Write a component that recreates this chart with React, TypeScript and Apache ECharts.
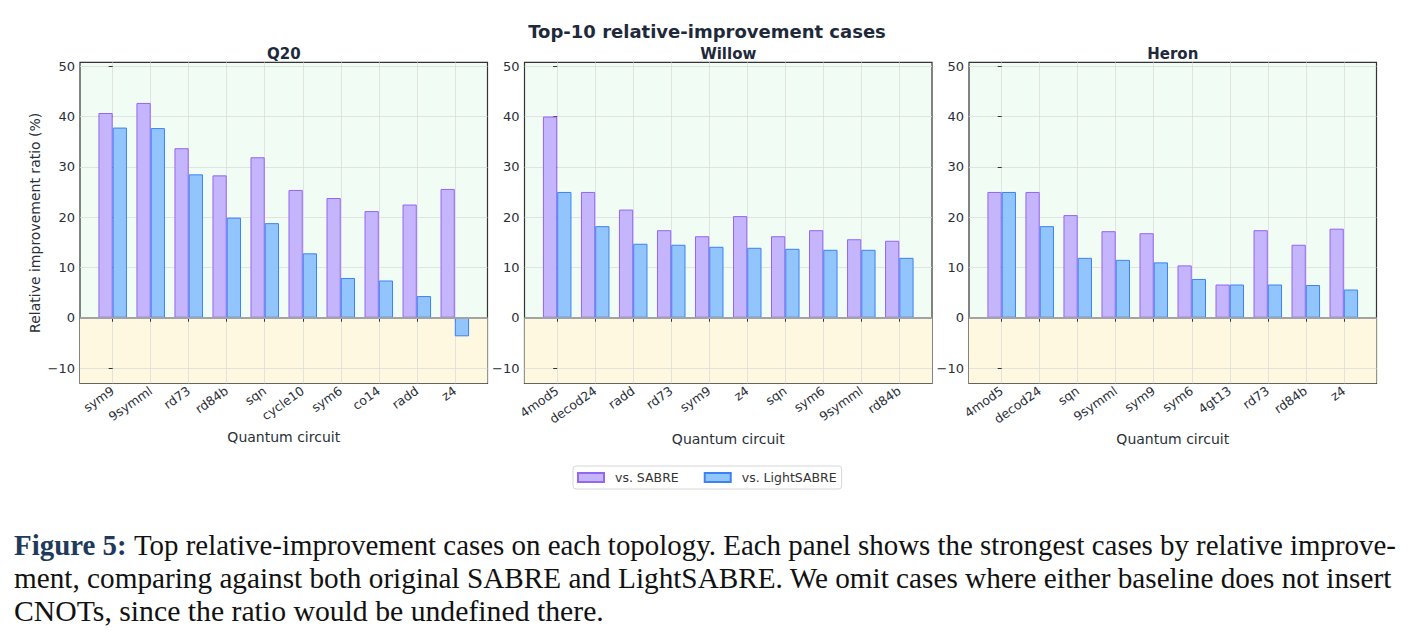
import React, { useEffect, useRef } from 'react';
import * as echarts from 'echarts';

const mainTitle = 'Top-10 relative-improvement cases';
const panelTitles = ['Q20', 'Willow', 'Heron'];
const seriesNames = ['vs. SABRE', 'vs. LightSABRE'];

const q20Circuits = ['sym9', '9symml', 'rd73', 'rd84b', 'sqn', 'cycle10', 'sym6', 'co14', 'radd', 'z4'];
const q20VsSabre = [40.7, 42.7, 33.7, 28.3, 31.9, 25.4, 23.8, 21.2, 22.5, 25.6];
const q20VsLight = [37.8, 37.7, 28.5, 19.9, 18.8, 12.8, 7.9, 7.4, 4.3, -3.7];

const willowCircuits = ['4mod5', 'decod24', 'radd', 'rd73', 'sym9', 'z4', 'sqn', 'sym6', '9symml', 'rd84b'];
const willowVsSabre = [40.0, 25.0, 21.5, 17.4, 16.2, 20.2, 16.2, 17.4, 15.6, 15.3];
const willowVsLight = [25.0, 18.2, 14.7, 14.5, 14.1, 13.9, 13.7, 13.5, 13.5, 11.9];

const heronCircuits = ['4mod5', 'decod24', 'sqn', '9symml', 'sym9', 'sym6', '4gt13', 'rd73', 'rd84b', 'z4'];
const heronVsSabre = [25.0, 25.0, 20.4, 17.2, 16.8, 10.4, 6.6, 17.4, 14.5, 17.7];
const heronVsLight = [25.0, 18.2, 11.9, 11.5, 11.0, 7.7, 6.6, 6.6, 6.5, 5.6];

const yTicks = [-10, 0, 10, 20, 30, 40, 50];
const yAxisName = 'Relative improvement ratio (%)';
const xAxisName = 'Quantum circuit';

const captionBold = 'Figure 5:';
const captionLines = [
  'Top relative-improvement cases on each topology. Each panel shows the strongest cases by relative improve-',
  'ment, comparing against both original SABRE and LightSABRE. We omit cases where either baseline does not insert',
  'CNOTs, since the ratio would be undefined there.',
];

const panels = [
  { title: panelTitles[0], cats: q20Circuits, a: q20VsSabre, b: q20VsLight },
  { title: panelTitles[1], cats: willowCircuits, a: willowVsSabre, b: willowVsLight },
  { title: panelTitles[2], cats: heronCircuits, a: heronVsSabre, b: heronVsLight },
];

// layout
const GRID_LEFTS = [80, 524.5, 969];
const GRID_TOP = 62.3;
const GRID_W = 407.5;
const GRID_H = 321;
const X_MIN = -0.86;
const X_MAX = 9.86;
const Y_MIN = -13.04;
const Y_MAX = 50.78;

const TEXT_COLOR = '#2a2f38';
const TITLE_COLOR = '#1e293b';
const SANS = '"DejaVu Sans", sans-serif';

function measure(text: string, font: string): number {
  const c = document.createElement('canvas').getContext('2d');
  if (!c) return text.length * 12;
  c.font = font;
  return c.measureText(text).width;
}

export default function App() {
  const ref = useRef<HTMLDivElement>(null);

  useEffect(() => {
    if (!ref.current) return;
    const chart = echarts.init(ref.current, undefined, { renderer: 'svg' });

    const idx = q20Circuits.map((_, i) => i);

    const grids = panels.map((_, i) => ({
      left: GRID_LEFTS[i],
      top: GRID_TOP,
      width: GRID_W,
      height: GRID_H,
      show: true,
      backgroundColor: '#f1fcf5',
      borderColor: '#333333',
      borderWidth: 1.2,
      containLabel: false,
    }));

    const gridColor = '#dcdcdc';

    const xAxes = panels.map((p, i) => ({
      type: 'value',
      gridIndex: i,
      min: X_MIN,
      max: X_MAX,
      z: 1.5,
      axisLine: { show: false },
      axisTick: { show: true, customValues: idx, length: 4, lineStyle: { color: '#333' } },
      axisLabel: {
        customValues: idx,
        rotate: 35,
        margin: 6,
        fontSize: 12.5,
        fontFamily: SANS,
        color: TEXT_COLOR,
        formatter: (v: number) => p.cats[Math.round(v)] ?? '',
      },
      splitLine: { show: false },
      name: xAxisName,
      nameLocation: 'middle',
      nameGap: 47,
      nameTextStyle: { fontSize: 14, fontFamily: SANS, color: TEXT_COLOR },
    }));

    const yAxes = panels.map((_, i) => ({
      type: 'value',
      gridIndex: i,
      min: Y_MIN,
      max: Y_MAX,
      z: 1.5,
      axisLine: { show: false },
      axisTick: { show: true, customValues: yTicks, length: 4, lineStyle: { color: '#333' } },
      axisLabel: {
        customValues: yTicks,
        margin: 5,
        fontSize: 13,
        fontFamily: SANS,
        color: TEXT_COLOR,
        formatter: (v: number) => (v < 0 ? '\u2212' + Math.abs(v) : String(v)),
      },
      splitLine: { show: false },
    }));

    const series: any[] = [];
    panels.forEach((p, i) => {
      // background bands + gridlines (no data of their own)
      series.push({
        type: 'line',
        xAxisIndex: i,
        yAxisIndex: i,
        data: [],
        silent: true,
        markArea: {
          silent: true,
          z: 0.5,
          itemStyle: { color: '#fef8e0' },
          data: [[{ xAxis: X_MIN, yAxis: Y_MIN }, { xAxis: X_MAX, yAxis: 0 }]],
        },
        markLine: {
          silent: true,
          z: 1,
          symbol: 'none',
          label: { show: false },
          lineStyle: { color: gridColor, width: 0.8, type: 'solid' },
          data: [
            ...idx.map((k) => ({ xAxis: k })),
            ...yTicks.filter((t) => t !== 0).map((t) => ({ yAxis: t })),
          ],
        },
      });
      series.push({
        name: seriesNames[0],
        type: 'bar',
        xAxisIndex: i,
        yAxisIndex: i,
        barGap: '0%',
        barCategoryGap: '25%',
        data: p.a.map((v, k) => [k, v]),
        itemStyle: { color: '#c4b5fd', borderColor: '#9466f2', borderWidth: 1 },
      });
      series.push({
        name: seriesNames[1],
        type: 'bar',
        xAxisIndex: i,
        yAxisIndex: i,
        barGap: '0%',
        barCategoryGap: '25%',
        data: p.b.map((v, k) => [k, v]),
        itemStyle: { color: '#93c5fd', borderColor: '#3b82f6', borderWidth: 1 },
        markLine: {
          silent: true,
          symbol: 'none',
          label: { show: false },
          lineStyle: { color: '#a3a3a3', width: 1.8, type: 'solid' },
          data: [{ yAxis: 0 }],
        },
      });
    });

    // caption layout with justified-like stretching
    const capSize = 30;
    const boldFont = `bold ${capSize}px "Liberation Serif"`;
    const regFont = `${capSize}px "Liberation Serif"`;
    const capLeft = 14;
    const capTargets = [1382, 1379, 590];
    const capYs = [545, 578, 610];
    const captionGraphics: any[] = [];
    captionLines.forEach((line, li) => {
      if (li === 0) {
        const wb = measure(captionBold, boldFont);
        const ws = measure(' ', regFont);
        const wr = measure(line, regFont);
        const s = capTargets[li] / (wb + ws + wr);
        captionGraphics.push({
          type: 'text', x: capLeft, y: capYs[li], scaleX: s,
          style: { text: captionBold, font: boldFont, fill: '#1f3a5c', align: 'left', verticalAlign: 'middle' },
        });
        captionGraphics.push({
          type: 'text', x: capLeft + s * (wb + ws), y: capYs[li], scaleX: s,
          style: { text: line, font: regFont, fill: '#111', align: 'left', verticalAlign: 'middle' },
        });
      } else {
        const wr = measure(line, regFont);
        const s = capTargets[li] / wr;
        captionGraphics.push({
          type: 'text', x: capLeft, y: capYs[li], scaleX: s,
          style: { text: line, font: regFont, fill: '#111', align: 'left', verticalAlign: 'middle' },
        });
      }
    });

    const option: any = {
      animation: false,
      backgroundColor: '#ffffff',
      grid: grids,
      xAxis: xAxes,
      yAxis: yAxes,
      series,
      legend: {
        data: seriesNames,
        left: 573,
        top: 466,
        orient: 'horizontal',
        icon: 'rect',
        itemWidth: 26,
        itemHeight: 9,
        itemGap: 25,
        padding: [5, 5, 5, 4],
        borderColor: '#d6d6d6',
        borderWidth: 1,
        borderRadius: 3,
        textStyle: { fontSize: 12.5, fontFamily: SANS, color: '#333', padding: [0, 0, 0, 6] },
      },
      graphic: [
        {
          type: 'text', x: 707, y: 31,
          style: { text: mainTitle, font: `bold 18px ${SANS}`, fill: TITLE_COLOR, align: 'center', verticalAlign: 'middle' },
        },
        ...panels.map((p, i) => ({
          type: 'text', x: GRID_LEFTS[i] + GRID_W / 2, y: 53.5,
          style: { text: p.title, font: `bold 15px ${SANS}`, fill: TITLE_COLOR, align: 'center', verticalAlign: 'middle' },
        })),
        {
          type: 'text', x: 35, y: GRID_TOP + GRID_H / 2, rotation: Math.PI / 2,
          style: { text: yAxisName, font: `14px ${SANS}`, fill: TEXT_COLOR, align: 'center', verticalAlign: 'middle' },
        },
        ...captionGraphics,
      ],
    };

    chart.setOption(option);
    return () => chart.dispose();
  }, []);

  return (
    <div
      ref={ref}
      style={{ position: 'fixed', left: 0, top: 0, width: 1411, height: 641, background: '#fff' }}
    />
  );
}
